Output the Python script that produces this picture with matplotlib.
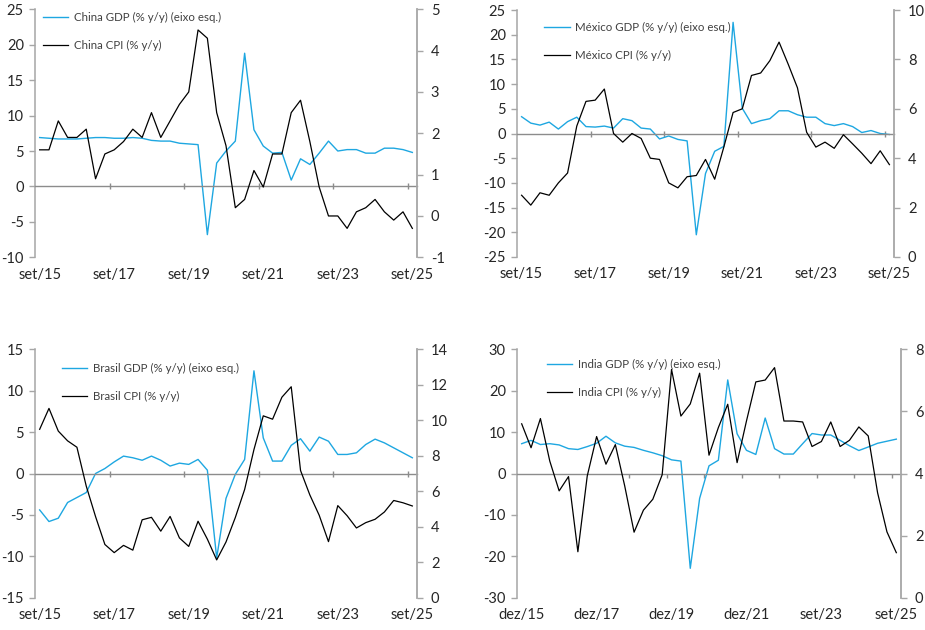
import matplotlib
matplotlib.use("Agg")
import matplotlib.pyplot as plt

plt.rcParams['font.family'] = ['Lato', 'DejaVu Sans']
plt.rcParams['axes.unicode_minus'] = False

# ---------------- data ----------------
std_labels = ["set/15", "set/17", "set/19", "set/21", "set/23", "set/25"]
india_labels = ["dez/15", "dez/17", "dez/19", "dez/21", "set/23", "set/25"]

china_gdp = [6.9, 6.8, 6.7, 6.7, 6.7, 6.8, 6.9, 6.9, 6.8, 6.8, 6.9, 6.8, 6.5, 6.4, 6.4, 6.1, 6.0, 5.9,
             -6.8, 3.3, 5.0, 6.4, 18.8, 8.0, 5.7, 4.7, 4.8, 0.9, 3.9, 3.1, 4.7, 6.4, 5.0, 5.2, 5.2,
             4.7, 4.7, 5.4, 5.4, 5.2, 4.8]
china_cpi = [1.6, 1.6, 2.3, 1.9, 1.9, 2.1, 0.9, 1.5, 1.6, 1.8, 2.1, 1.9, 2.5, 1.9, 2.3, 2.7, 3.0, 4.5,
             4.3, 2.5, 1.7, 0.2, 0.4, 1.1, 0.7, 1.5, 1.5, 2.5, 2.8, 1.8, 0.7, 0.0, 0.0, -0.3, 0.1,
             0.2, 0.4, 0.1, -0.1, 0.1, -0.3]

mexico_gdp = [3.4, 2.1, 1.7, 2.3, 0.9, 2.4, 3.3, 1.4, 1.3, 1.5, 1.1, 3.0, 2.6, 1.1, 0.9, -1.1, -0.5,
              -1.2, -1.5, -20.5, -8.1, -3.6, -2.6, 22.5, 5.1, 2.0, 2.6, 3.0, 4.6, 4.6, 3.8, 3.3, 3.3,
              2.0, 1.6, 2.0, 1.4, 0.2, 0.6, 0.0, -0.2]
mexico_cpi = [2.5, 2.1, 2.6, 2.5, 3.0, 3.4, 5.3, 6.3, 6.35, 6.8, 5.0, 4.65, 5.0, 4.8, 4.0, 3.95, 3.0,
              2.8, 3.25, 3.3, 3.95, 3.15, 4.46, 5.85, 6.0, 7.35, 7.45, 7.95, 8.7, 7.8, 6.85, 5.05,
              4.45, 4.65, 4.4, 4.95, 4.58, 4.2, 3.78, 4.3, 3.74]

brazil_gdp = [-4.4, -5.8, -5.4, -3.5, -2.9, -2.3, 0.0, 0.6, 1.4, 2.1, 1.9, 1.6, 2.1, 1.6, 0.9, 1.25,
              1.1, 1.7, 0.4, -10.2, -3.0, -0.1, 1.7, 12.4, 4.3, 1.5, 1.5, 3.4, 4.2, 2.7, 4.4, 3.9,
              2.3, 2.3, 2.5, 3.5, 4.15, 3.7, 3.1, 2.5, 1.9]
brazil_cpi = [9.49, 10.67, 9.39, 8.84, 8.48, 6.29, 4.57, 3.0, 2.54, 2.95, 2.68, 4.39, 4.53, 3.75, 4.58,
              3.37, 2.89, 4.31, 3.30, 2.13, 3.14, 4.52, 6.10, 8.35, 10.25, 10.06, 11.30, 11.89, 7.17,
              5.79, 4.65, 3.16, 5.19, 4.62, 3.93, 4.23, 4.42, 4.83, 5.48, 5.35, 5.17]

india_gdp = [7.2, 8.0, 7.0, 7.2, 6.9, 6.0, 5.8, 6.5, 7.3, 9.0, 7.4, 6.6, 6.3, 5.6, 5.0, 4.3, 3.3, 3.0,
             -22.9, -6.0, 1.85, 3.2, 22.6, 9.6, 5.6, 4.6, 13.4, 6.0, 4.7, 4.7, 7.2, 9.65, 9.3, 9.3,
             8.0, 6.7, 5.55, 6.4, 7.3, 7.8, 8.3]
india_cpi = [5.6, 4.83, 5.77, 4.4, 3.44, 3.9, 1.48, 3.92, 5.19, 4.3, 4.93, 3.6, 2.11, 2.82, 3.17, 3.96,
             7.35, 5.85, 6.24, 7.23, 4.59, 5.48, 6.23, 4.35, 5.69, 6.95, 7.01, 7.41, 5.69, 5.69, 5.66,
             4.87, 5.03, 5.66, 4.87, 5.07, 5.5, 5.21, 3.38, 2.12, 1.45]

panels = [
    dict(name="China", gdp=china_gdp, cpi=china_cpi, labels=std_labels,
         lyl=(-10, 25), lstep=5, ryl=(-1, 5), rstep=1, tick_every=8, tick_start=7.5,
         box=(35, 9.3, 417, 257.3), leg=(0.021, 0.990), tickdir='inout'),
    dict(name="México", gdp=mexico_gdp, cpi=mexico_cpi, labels=std_labels,
         lyl=(-25, 25), lstep=5, ryl=(0, 10), rstep=2, tick_every=8, tick_start=7.5,
         box=(517, 10, 894, 257), leg=(0.072, 0.953), tickdir='inout'),
    dict(name="Brasil", gdp=brazil_gdp, cpi=brazil_cpi, labels=std_labels,
         lyl=(-15, 15), lstep=5, ryl=(0, 14), rstep=2, tick_every=8, tick_start=7.5,
         box=(35, 349.3, 417, 597.7), leg=(0.071, 0.946), tickdir='inout'),
    dict(name="India", gdp=india_gdp, cpi=india_cpi, labels=india_labels,
         lyl=(-30, 30), lstep=10, ryl=(0, 8), rstep=2, tick_every=4, tick_start=11.5,
         box=(517, 349.3, 901, 597.7), leg=(0.078, 0.961), tickdir='out'),
]

W, H = 925, 630
BLUE = '#1EA7E1'
GRAY = '#A6A6A6'
TXT = '#262626'

fig = plt.figure(figsize=(W / 100, H / 100), dpi=100)

for p in panels:
    x0, y0, x1, y1 = p['box']
    ax = fig.add_axes([x0 / W, 1 - y1 / H, (x1 - x0) / W, (y1 - y0) / H])
    ax2 = ax.twinx()
    n = len(p['gdp'])
    xs = list(range(n))
    l1, = ax.plot(xs, p['gdp'], color=BLUE, lw=1.0, label=f"{p['name']} GDP (% y/y) (eixo esq.)")
    l2, = ax2.plot(xs, p['cpi'], color='black', lw=0.9, label=f"{p['name']} CPI (% y/y)")

    ax.set_xlim(-0.5, n - 0.5)
    ax.set_ylim(*p['lyl'])
    ax2.set_ylim(*p['ryl'])
    ax.set_yticks(range(p['lyl'][0], p['lyl'][1] + 1, p['lstep']))
    ax2.set_yticks(range(p['ryl'][0], p['ryl'][1] + 1, p['rstep']))

    for a in (ax, ax2):
        a.spines['top'].set_visible(False)
    ax.spines['right'].set_visible(False)
    ax2.spines['left'].set_visible(False)
    ax2.spines['bottom'].set_visible(False)
    ax.spines['left'].set_color(GRAY)
    ax2.spines['right'].set_color(GRAY)
    ax.spines['left'].set_linewidth(1.1)
    ax2.spines['right'].set_linewidth(1.3)

    # zero line with category boundary ticks
    ax.spines['bottom'].set_position(('data', 0))
    ax.spines['bottom'].set_color('#8C8C8C')
    ax.spines['bottom'].set_linewidth(1.0)
    bounds = []
    b = p['tick_start']
    while b < n:
        bounds.append(b)
        b += p['tick_every']
    ax.set_xticks(bounds)
    ax.tick_params(axis='x', labelbottom=False, direction=p['tickdir'],
                   length=5 if p['tickdir'] == 'inout' else 3, color='#8C8C8C', width=1.0)

    # category labels at bottom
    sec = ax.secondary_xaxis('bottom')
    sec.set_xticks(list(range(0, n, 8)), p['labels'])
    sec.tick_params(length=0, pad=7.5, labelsize=10.5, labelcolor=TXT)
    sec.spines['bottom'].set_visible(False)

    ax.tick_params(axis='y', direction='out', length=4, color=GRAY, width=1.0,
                   labelsize=10.5, labelcolor=TXT, pad=4)
    ax2.tick_params(axis='y', direction='out', length=4, color=GRAY, width=1.0,
                    labelsize=10.5, labelcolor=TXT, pad=6)

    leg = ax2.legend(handles=[l1, l2], loc='upper left', bbox_to_anchor=p['leg'],
                     frameon=False, fontsize=8.3, handlelength=2.2, handletextpad=0.45,
                     labelspacing=1.5, borderpad=0, borderaxespad=0)
    for t in leg.get_texts():
        t.set_color('#404040')

fig.savefig("out.png", dpi=100)
